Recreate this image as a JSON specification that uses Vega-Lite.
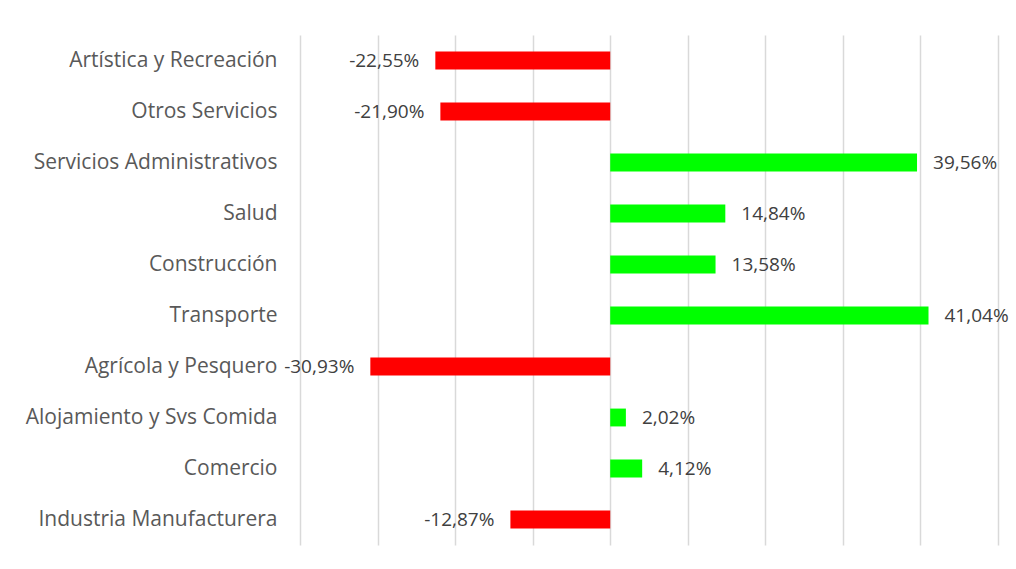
{
  "$schema": "https://vega.github.io/schema/vega-lite/v6.json",
  "width": 698,
  "height": 510,
  "autosize": {"type": "none"},
  "padding": {"left": 300, "top": 35, "right": 18, "bottom": 24},
  "background": "white",
  "config": {
    "view": {"stroke": null},
    "locale": {"number": {"decimal": ",", "thousands": ".", "grouping": [3], "currency": ["", "€"], "minus": "-"}},
    "font": "Open Sans"
  },
  "data": {
    "values": [
      {"sector": "Artística y Recreación", "v": -0.2255},
      {"sector": "Otros Servicios", "v": -0.2190},
      {"sector": "Servicios Administrativos", "v": 0.3956},
      {"sector": "Salud", "v": 0.1484},
      {"sector": "Construcción", "v": 0.1358},
      {"sector": "Transporte", "v": 0.4104},
      {"sector": "Agrícola y Pesquero", "v": -0.3093},
      {"sector": "Alojamiento y Svs Comida", "v": 0.0202},
      {"sector": "Comercio", "v": 0.0412},
      {"sector": "Industria Manufacturera", "v": -0.1287}
    ]
  },
  "encoding": {
    "y": {
      "field": "sector",
      "type": "nominal",
      "sort": null,
      "scale": {"paddingInner": 0.65, "paddingOuter": 0.325},
      "axis": {
        "title": null,
        "domain": false,
        "ticks": false,
        "grid": false,
        "labelPadding": 23,
        "labelFontSize": 21,
        "labelLimit": 0,
        "labelColor": "#595959",
        "labelFont": "Open Sans"
      }
    },
    "x": {
      "field": "v",
      "type": "quantitative",
      "scale": {"domain": [-0.4, 0.5], "nice": false, "zero": false},
      "axis": {
        "title": null,
        "labels": false,
        "ticks": false,
        "domain": false,
        "grid": true,
        "gridColor": "#d9d9d9",
        "gridWidth": 1.5,
        "values": [-0.4, -0.3, -0.2, -0.1, 0, 0.1, 0.2, 0.3, 0.4, 0.5]
      }
    }
  },
  "layer": [
    {
      "mark": {"type": "bar"},
      "encoding": {
        "color": {
          "condition": {"test": "datum.v < 0", "value": "#ff0000"},
          "value": "#00ff00"
        }
      }
    },
    {
      "transform": [{"filter": "datum.v < 0"}],
      "mark": {"type": "text", "align": "right", "baseline": "middle", "dx": -16, "fontSize": 19, "color": "#404040"},
      "encoding": {"text": {"field": "v", "type": "quantitative", "format": ".2%"}}
    },
    {
      "transform": [{"filter": "datum.v >= 0"}],
      "mark": {"type": "text", "align": "left", "baseline": "middle", "dx": 16, "fontSize": 19, "color": "#404040"},
      "encoding": {"text": {"field": "v", "type": "quantitative", "format": ".2%"}}
    }
  ]
}
